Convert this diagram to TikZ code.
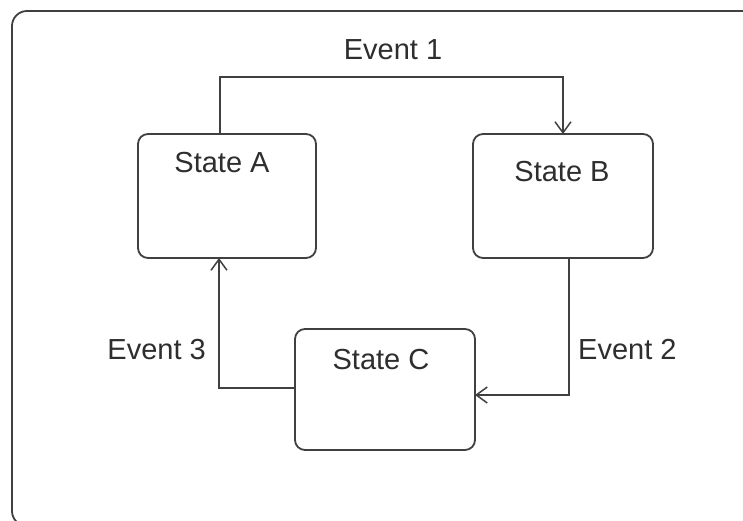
\documentclass[tikz,border=0pt]{standalone}
\usepackage{fontspec}
\setmainfont{Liberation Sans}
\usetikzlibrary{arrows.meta}
\definecolor{ink}{HTML}{404040}
\definecolor{txt}{HTML}{2E2E2E}
\tikzset{
  statebox/.style={draw=ink, line width=1.8pt, rounded corners=10pt, fill=white},
  statelabel/.style={text=txt, font=\fontsize{29}{33}\selectfont, inner sep=0pt},
  evlabel/.style={text=txt, font=\fontsize{29}{33}\selectfont, inner sep=0pt},
  trans/.style={draw=ink, line width=1.8pt,
    -{Straight Barb[length=11pt,width=16pt,line width=1.5pt]}},
}
\begin{document}
\begin{tikzpicture}[x=1pt,y=-1pt]
  \useasboundingbox (0,0) rectangle (743,520);
  \clip (0,0) rectangle (743,520);
  \fill[white] (0,0) rectangle (743,520);
  % outer frame, running off the page on the right and bottom
  \draw[draw=ink, line width=1.8pt, rounded corners=15pt] (12,11) rectangle (765,526);

  % states
  \path[statebox] (138,134) rectangle (316,258);
  \path[statebox] (473,134) rectangle (653,258);
  \path[statebox] (295,329) rectangle (475,450);
  \node[statelabel] (a) at (222,163) {State A};
  \node[statelabel] (b) at (562,172) {State B};
  \node[statelabel] (c) at (381,360) {State C};

  % anchor points on the box edges
  \coordinate (aTop) at (220,134);
  \coordinate (aBot) at (219,258);
  \coordinate (bTop) at (563,134);
  \coordinate (bBot) at (569,258);
  \coordinate (cLeft) at (295,388);
  \coordinate (cRight) at (475,395);

  % transitions
  \draw[trans] (aTop) |- (392,77) -| (bTop);
  \draw[trans] (bBot) |- (cRight);
  \draw[trans] (cLeft) -| (aBot);

  \node[evlabel] (e1) at (393,50) {Event 1};
  \node[evlabel, anchor=west] (e2) at (578,350) {Event 2};
  \node[evlabel, anchor=east] (e3) at (206,350) {Event 3};
\end{tikzpicture}
\end{document}
